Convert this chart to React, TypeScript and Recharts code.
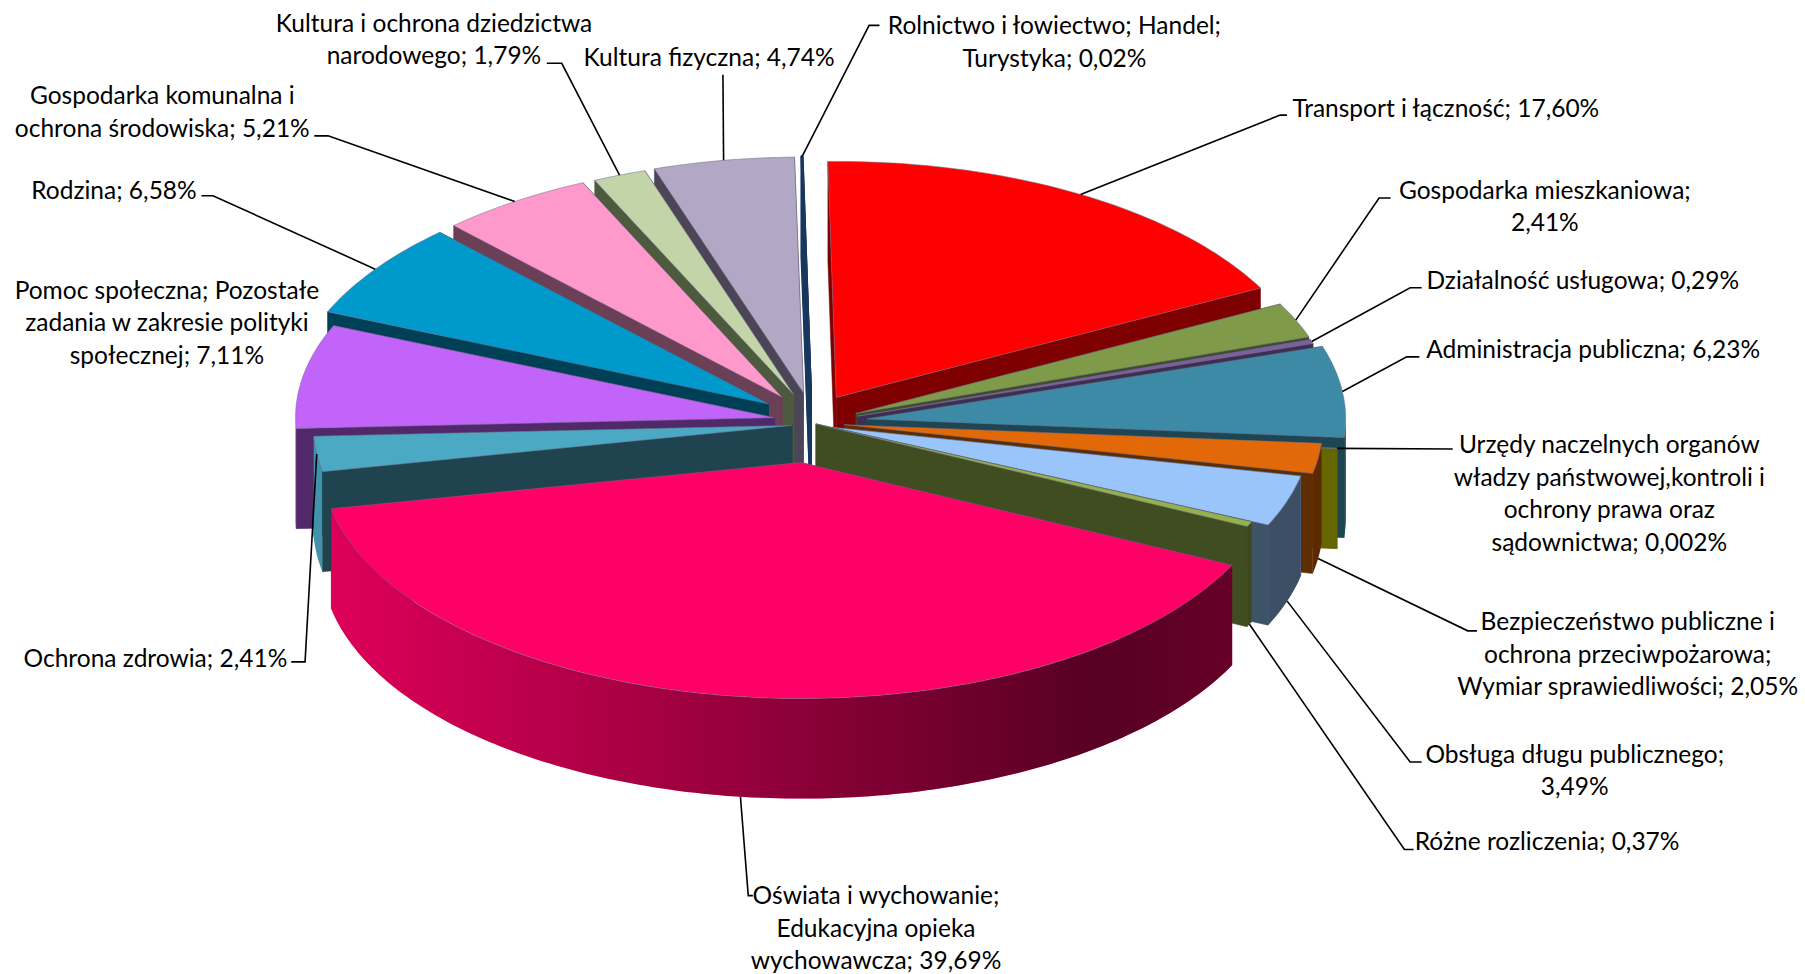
// Budget expenditure shares, exploded 3D pie.
// Recharts gives the angles, the custom shape projects each sector onto a tilted plane.

import { PieChart, Pie } from 'recharts';

const names = [
  'Transport i łączność', 'Gospodarka mieszkaniowa', 'Działalność usługowa', 'Administracja publiczna',
  'Urzędy naczelnych organów', 'Bezpieczeństwo publiczne', 'Obsługa długu publicznego', 'Różne rozliczenia',
  'Oświata i wychowanie', 'Ochrona zdrowia', 'Pomoc społeczna', 'Rodzina',
  'Gospodarka komunalna', 'Kultura i ochrona dziedzictwa', 'Kultura fizyczna', 'Rolnictwo i łowiectwo',
];
const values = [17.6, 2.41, 0.29, 6.23, 0.002, 2.05, 3.49, 0.37, 39.69, 2.41, 7.11, 6.58, 5.21, 1.79, 4.74, 0.02];
const labelLines = [
  ['Transport i łączność; 17,60%'],
  ['Gospodarka mieszkaniowa;', '2,41%'],
  ['Działalność usługowa; 0,29%'],
  ['Administracja publiczna; 6,23%'],
  ['Urzędy naczelnych organów', 'władzy państwowej,kontroli i', 'ochrony prawa oraz', 'sądownictwa; 0,002%'],
  ['Bezpieczeństwo publiczne i', 'ochrona przeciwpożarowa;', 'Wymiar sprawiedliwości; 2,05%'],
  ['Obsługa długu publicznego;', '3,49%'],
  ['Różne rozliczenia; 0,37%'],
  ['Oświata i wychowanie;', 'Edukacyjna opieka', 'wychowawcza; 39,69%'],
  ['Ochrona zdrowia; 2,41%'],
  ['Pomoc społeczna; Pozostałe', 'zadania w zakresie polityki', 'społecznej; 7,11%'],
  ['Rodzina; 6,58%'],
  ['Gospodarka komunalna i', 'ochrona środowiska; 5,21%'],
  ['Kultura i ochrona dziedzictwa', 'narodowego; 1,79%'],
  ['Kultura fizyczna; 4,74%'],
  ['Rolnictwo i łowiectwo; Handel;', 'Turystyka; 0,02%'],
];

const topColors = ['#ff0000', '#7f9a48', '#7d5fa0', '#3c8aa5', '#cccc00', '#e36808', '#99c5fa', '#93b14c',
  '#ff0066', '#4ba9c4', '#c264fa', '#0099cc', '#ff99cc', '#c3d5a8', '#b3a7c6', '#1f497d'];
const cutColors = ['#7f0000', '#3f4d24', '#3e2f50', '#1d4552', '#666600', '#5e2e02', '#3f5368', '#404d20',
  '#7f0033', '#1f444f', '#51296b', '#004056', '#6b3f56', '#4e5a3e', '#4c4557', '#17375e'];
// per-point explosion, as in the Excel original
const explode = [1, 1, 1, 1.15, 1, 0.68, 0.45, 0.1, 1, 0.43, 0.78, 1, 1, 1, 1, 1];
// small corrections for the original's perspective, in preview pixels
const nudgeX = [0, 0, 0, 0, 0, 0, 0, 0, -4, 1, 0, -3, -2, 0, 0, 0];
const nudgeY = [0, 0, 0, -3, 0, -5, -4, -4, 1, -3, -4, -3, -1, 0, 0, 0];
// back to front
const paintOrder = [15, 14, 13, 12, 11, 10, 9, 0, 1, 2, 3, 4, 5, 6, 7, 8];

const data = names.map((name, i) => ({ name, value: values[i] }));

// layout was measured on the 1568px wide preview
const S = 1805 / 1568;
const CX = 705 * S;
const CY = 371 * S;
const RADIUS = 416 * S;
const SQUASH = 205 / 416;
const EXPLODE_X = 42 * S;
const EXPLODE_Y = 30 * S;
const DEPTH = 87 * S;
const RAD = Math.PI / 180;

// label centre x, first line y, leader knee and end (null = no leader), and whether it leaves from the wall bottom
const labelLayout: any[] = [
  { x: 1256, y: 93, knee: [1112, 100], end: [1118, 100], wall: false },
  { x: 1342, y: 164, knee: [1198, 172], end: [1208, 172], wall: false },
  { x: 1375, y: 242, knee: [1225, 250], end: [1235, 250], wall: false },
  { x: 1384, y: 302, knee: [1222, 310], end: [1233, 310], wall: false },
  { x: 1398, y: 385, knee: [1262, 390], end: [1262, 390], wall: false },
  { x: 1414, y: 539, knee: [1275, 548], end: [1283, 548], wall: true },
  { x: 1368, y: 654, knee: [1225, 662], end: [1235, 662], wall: true },
  { x: 1344, y: 730, knee: [1220, 738], end: [1228, 738], wall: true },
  { x: 761, y: 777, knee: [650, 778], end: [654, 778], wall: true },
  { x: 135, y: 571, knee: [265, 575], end: [253, 575], wall: false },
  { x: 145, y: 251, knee: null, end: null, wall: false },
  { x: 99, y: 164, knee: [185, 170], end: [175, 170], wall: false },
  { x: 141, y: 82, knee: [285, 118], end: [273, 118], wall: false },
  { x: 377, y: 19, knee: [488, 55], end: [475, 55], wall: false },
  { x: 616, y: 49, knee: [628, 65], end: [628, 65], wall: false },
  { x: 916, y: 21, knee: [755, 22], end: [764, 22], wall: false },
];

function apexOf(i: number, cx: number, cy: number, mid: number) {
  return {
    x: cx + Math.cos(mid * RAD) * EXPLODE_X * explode[i] + nudgeX[i] * S,
    y: cy - Math.sin(mid * RAD) * EXPLODE_Y * explode[i] + nudgeY[i] * S,
  };
}

function rim(ax: number, ay: number, r: number, a: number) {
  return { x: ax + Math.cos(a * RAD) * r, y: ay - Math.sin(a * RAD) * r * SQUASH };
}

function toPath(pts: { x: number; y: number }[]) {
  return pts.map((p, k) => `${k === 0 ? 'M' : 'L'}${p.x.toFixed(1)},${p.y.toFixed(1)}`).join(' ') + ' Z';
}

function arcPoints(ax: number, ay: number, r: number, from: number, to: number) {
  const n = Math.max(1, Math.ceil(Math.abs(to - from)));
  const pts = [];
  for (let k = 0; k <= n; k++) pts.push(rim(ax, ay, r, from + ((to - from) * k) / n));
  return pts;
}

function down(p: { x: number; y: number }) {
  return { x: p.x, y: p.y + DEPTH };
}

function Slice3D(props: any) {
  const { cx, cy, outerRadius, startAngle, endAngle, name } = props;
  const i = names.indexOf(name);
  const mid = (startAngle + endAngle) / 2;
  const A = apexOf(i, cx, cy, mid);
  const P = rim(A.x, A.y, outerRadius, startAngle);
  const Q = rim(A.x, A.y, outerRadius, endAngle);
  const top = arcPoints(A.x, A.y, outerRadius, startAngle, endAngle);

  // a cut wall faces the viewer when the slice lies above its top edge
  const isFront = (E: any, O: any) => {
    const lineY = A.y + ((E.y - A.y) * (O.x - A.x)) / (E.x - A.x || 1);
    return O.y < lineY;
  };
  const cuts = [
    { pts: [A, P, down(P), down(A)], front: isFront(P, Q) },
    { pts: [A, Q, down(Q), down(A)], front: isFront(Q, P) },
  ];

  // outer wall, front half of the rim only (angles between 180 and 360 going clockwise)
  const wallRanges: [number, number][] = [];
  for (const base of [0, -360]) {
    const from = Math.min(startAngle, base);
    const to = Math.max(endAngle, base - 180);
    if (from > to) wallRanges.push([from, to]);
  }
  const walls = wallRanges.map(([from, to]) => {
    const arc = arcPoints(A.x, A.y, outerRadius, from, to);
    return toPath([...arc, ...arc.slice().reverse().map(down)]);
  });

  const sliver = i === 15;
  return (
    <g>
      {cuts.filter((c) => !c.front).map((c, k) => (
        <path key={k} d={toPath(c.pts)} fill={cutColors[i]} stroke={cutColors[i]} strokeWidth={sliver ? 2.5 : 0.5} />
      ))}
      {walls.map((d, k) => (
        <g key={k}>
          <path d={d} fill={topColors[i]} />
          <path d={d} fill="url(#wallShade)" />
        </g>
      ))}
      {cuts.filter((c) => c.front).map((c, k) => (
        <path key={k} d={toPath(c.pts)} fill={cutColors[i]} stroke={cutColors[i]} strokeWidth={sliver ? 2.5 : 0.5} />
      ))}
      <path d={toPath([A, ...top])} fill={topColors[i]} stroke={sliver ? cutColors[i] : '#6f6f8f'}
        strokeOpacity={sliver ? 1 : 0.55} strokeWidth={sliver ? 2.5 : 1} strokeLinejoin="round" />
    </g>
  );
}

function SliceLabel(props: any) {
  const { cx, cy, outerRadius, midAngle, index } = props;
  const layout = labelLayout[index];
  const A = apexOf(index, cx, cy, midAngle);
  const start = rim(A.x, A.y, outerRadius, midAngle);
  const sy = layout.wall ? start.y + DEPTH : start.y;
  return (
    <g>
      {layout.knee && (
        <polyline
          points={`${start.x},${sy} ${layout.knee[0] * S},${layout.knee[1] * S} ${layout.end[0] * S},${layout.end[1] * S}`}
          fill="none" stroke="#000" strokeWidth={1.6}
        />
      )}
      <text x={layout.x * S} y={layout.y * S} textAnchor="middle" dominantBaseline="central"
        fontFamily="Lato, sans-serif" fontSize={24.5} fill="#000">
        {labelLines[index].map((line, k) => (
          <tspan key={k} x={layout.x * S} dy={k === 0 ? 0 : 28.2 * S}>{line}</tspan>
        ))}
      </text>
    </g>
  );
}

export default function App() {
  return (
    <div style={{ position: 'absolute', left: 0, top: 0, width: 1805, height: 974, overflow: 'hidden', background: '#fff' }}>
      <PieChart width={1805} height={974} margin={{ top: 0, right: 0, bottom: 0, left: 0 }}>
        <defs>
          <linearGradient id="wallShade" gradientUnits="userSpaceOnUse" x1={288 * S} y1="0" x2={1070 * S} y2="0">
            <stop offset="0%" stopColor="#000" stopOpacity={0.13} />
            <stop offset="85%" stopColor="#000" stopOpacity={0.66} />
            <stop offset="100%" stopColor="#000" stopOpacity={0.6} />
          </linearGradient>
        </defs>
        {paintOrder.map((idx) => (
          <Pie
            key={idx}
            data={data}
            dataKey="value"
            nameKey="name"
            cx={CX}
            cy={CY}
            outerRadius={RADIUS}
            startAngle={91}
            endAngle={-269}
            stroke="none"
            isAnimationActive={false}
            labelLine={false}
            shape={(p: any) => (p.name === names[idx] ? <Slice3D {...p} /> : <g />)}
          />
        ))}
        <Pie
          data={data}
          dataKey="value"
          nameKey="name"
          cx={CX}
          cy={CY}
          outerRadius={RADIUS}
          startAngle={91}
          endAngle={-269}
          stroke="none"
          isAnimationActive={false}
          labelLine={false}
          shape={() => <g />}
          label={(p: any) => <SliceLabel {...p} />}
        />
      </PieChart>
    </div>
  );
}
